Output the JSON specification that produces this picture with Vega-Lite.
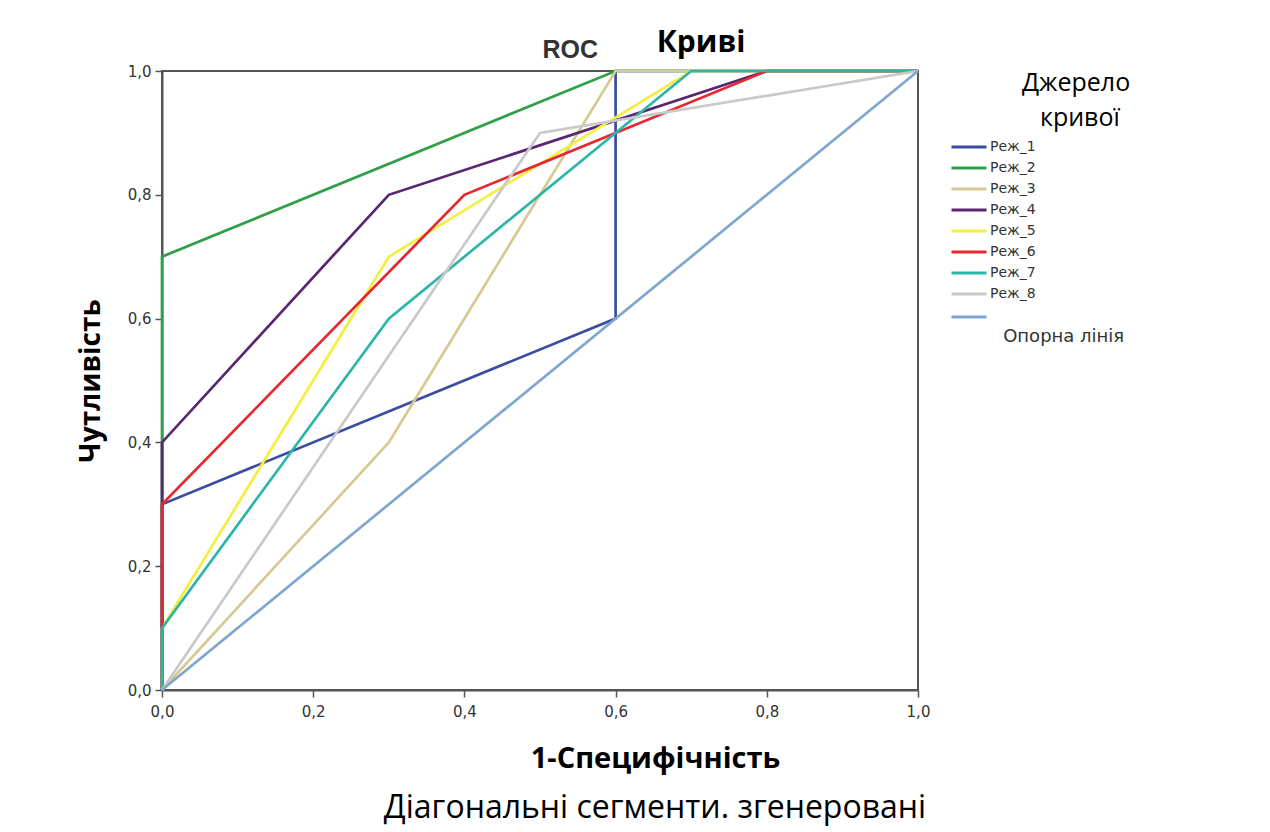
{
  "$schema": "https://vega.github.io/schema/vega-lite/v6.json",
  "width": 756,
  "height": 619,
  "autosize": {"type": "none"},
  "padding": {"left": 162, "top": 71, "right": 352, "bottom": 142},
  "background": "white",
  "config": {
    "view": {"stroke": "#555555", "strokeWidth": 2},
    "font": "Liberation Sans"
  },
  "title": {
    "text": "Діагональні сегменти. згенеровані",
    "orient": "bottom",
    "anchor": "middle",
    "dx": 115,
    "offset": 20,
    "font": "Open Sans",
    "fontSize": 32,
    "fontWeight": "normal",
    "color": "#000000"
  },
  "datasets": {
    "roc": [
      {"curve": "Реж_1", "step": 0, "fpr": 0, "tpr": 0},
      {"curve": "Реж_1", "step": 1, "fpr": 0, "tpr": 0.3},
      {"curve": "Реж_1", "step": 2, "fpr": 0.6, "tpr": 0.6},
      {"curve": "Реж_1", "step": 3, "fpr": 0.6, "tpr": 1},
      {"curve": "Реж_1", "step": 4, "fpr": 1, "tpr": 1},
      {"curve": "Реж_2", "step": 0, "fpr": 0, "tpr": 0},
      {"curve": "Реж_2", "step": 1, "fpr": 0, "tpr": 0.7},
      {"curve": "Реж_2", "step": 2, "fpr": 0.6, "tpr": 1},
      {"curve": "Реж_2", "step": 3, "fpr": 1, "tpr": 1},
      {"curve": "Реж_3", "step": 0, "fpr": 0, "tpr": 0},
      {"curve": "Реж_3", "step": 1, "fpr": 0.3, "tpr": 0.4},
      {"curve": "Реж_3", "step": 2, "fpr": 0.6, "tpr": 1},
      {"curve": "Реж_3", "step": 3, "fpr": 1, "tpr": 1},
      {"curve": "Реж_4", "step": 0, "fpr": 0, "tpr": 0},
      {"curve": "Реж_4", "step": 1, "fpr": 0, "tpr": 0.4},
      {"curve": "Реж_4", "step": 2, "fpr": 0.3, "tpr": 0.8},
      {"curve": "Реж_4", "step": 3, "fpr": 0.8, "tpr": 1},
      {"curve": "Реж_4", "step": 4, "fpr": 1, "tpr": 1},
      {"curve": "Реж_5", "step": 0, "fpr": 0, "tpr": 0},
      {"curve": "Реж_5", "step": 1, "fpr": 0, "tpr": 0.1},
      {"curve": "Реж_5", "step": 2, "fpr": 0.3, "tpr": 0.7},
      {"curve": "Реж_5", "step": 3, "fpr": 0.7, "tpr": 1},
      {"curve": "Реж_5", "step": 4, "fpr": 1, "tpr": 1},
      {"curve": "Реж_6", "step": 0, "fpr": 0, "tpr": 0},
      {"curve": "Реж_6", "step": 1, "fpr": 0, "tpr": 0.3},
      {"curve": "Реж_6", "step": 2, "fpr": 0.4, "tpr": 0.8},
      {"curve": "Реж_6", "step": 3, "fpr": 0.8, "tpr": 1},
      {"curve": "Реж_6", "step": 4, "fpr": 1, "tpr": 1},
      {"curve": "Реж_7", "step": 0, "fpr": 0, "tpr": 0},
      {"curve": "Реж_7", "step": 1, "fpr": 0, "tpr": 0.1},
      {"curve": "Реж_7", "step": 2, "fpr": 0.3, "tpr": 0.6},
      {"curve": "Реж_7", "step": 3, "fpr": 0.7, "tpr": 1},
      {"curve": "Реж_7", "step": 4, "fpr": 1, "tpr": 1},
      {"curve": "Реж_8", "step": 0, "fpr": 0, "tpr": 0},
      {"curve": "Реж_8", "step": 1, "fpr": 0.5, "tpr": 0.9},
      {"curve": "Реж_8", "step": 2, "fpr": 1, "tpr": 1},
      {"curve": "Опорна лінія", "step": 0, "fpr": 0, "tpr": 0},
      {"curve": "Опорна лінія", "step": 1, "fpr": 1, "tpr": 1}
    ]
  },
  "layer": [
    {
      "data": {"name": "roc"},
      "mark": {"type": "line", "strokeWidth": 2.7, "clip": false},
      "encoding": {
        "x": {
          "field": "fpr",
          "type": "quantitative",
          "scale": {"domain": [0, 1], "nice": false},
          "axis": {
            "title": "1-Специфічність",
            "titleFont": "Open Sans",
            "titleFontSize": 29,
            "titleFontWeight": "bold",
            "titleColor": "#000000",
            "titleX": 493,
            "titlePadding": 25,
            "values": [0, 0.2, 0.4, 0.6, 0.8, 1],
            "labelExpr": "replace(format(datum.value, '.1f'), '.', ',')",
            "labelFont": "DejaVu Sans",
            "labelFontSize": 15,
            "labelColor": "#333333",
            "labelPadding": 7,
            "labelFlush": false,
            "tickSize": 7,
            "tickColor": "#555555",
            "tickWidth": 1.5,
            "domainColor": "#555555",
            "domainWidth": 2,
            "grid": false
          }
        },
        "y": {
          "field": "tpr",
          "type": "quantitative",
          "scale": {"domain": [0, 1], "nice": false},
          "axis": {
            "title": "Чутливість",
            "titleFont": "Open Sans",
            "titleFontSize": 28,
            "titleFontWeight": "bold",
            "titleColor": "#000000",
            "titlePadding": 22,
            "values": [0, 0.2, 0.4, 0.6, 0.8, 1],
            "labelExpr": "replace(format(datum.value, '.1f'), '.', ',')",
            "labelFont": "DejaVu Sans",
            "labelFontSize": 15,
            "labelColor": "#333333",
            "labelPadding": 4,
            "labelFlush": false,
            "tickSize": 7,
            "tickColor": "#555555",
            "tickWidth": 1.5,
            "domainColor": "#555555",
            "domainWidth": 2,
            "grid": false
          }
        },
        "color": {
          "field": "curve",
          "type": "nominal",
          "scale": {
            "domain": ["Реж_1", "Реж_2", "Реж_3", "Реж_4", "Реж_5", "Реж_6", "Реж_7", "Реж_8", "Опорна лінія"],
            "range": ["#3a4da3", "#2f9f48", "#d6c993", "#5a2672", "#f4ee3e", "#e8262d", "#2db5aa", "#c9c9c9", "#7fa6d0"]
          },
          "legend": {
            "orient": "right",
            "offset": 26,
            "title": ["\u2800\u2800\u2800\u2800Джерело", "\u2800\u2800\u2800\u2800\u2800кривої"],
            "titleFont": "Open Sans",
            "titleFontSize": 25,
            "titleFontWeight": "normal",
            "titleColor": "#000000",
            "titleAlign": "left",
            "titleLimit": 400,
            "titleLineHeight": 35,
            "titlePadding": 9,
            "symbolType": "stroke",
            "symbolSize": 1225,
            "symbolStrokeWidth": 3,
            "labelFont": "DejaVu Sans",
            "labelFontSize": {"expr": "datum.label == 'Опорна лінія' ? 18 : 14"},
            "labelColor": "#333333",
            "labelOffset": 2,
            "labelLimit": 300,
            "clipHeight": 14,
            "rowPadding": 7,
            "labelExpr": "datum.label == 'Опорна лінія' ? ['', '\u2800Опорна лінія'] : datum.label"
          }
        },
        "order": {"field": "step", "type": "quantitative"}
      }
    },
    {
      "data": {"values": [{"t": "ROC"}]},
      "mark": {"type": "text", "font": "Liberation Sans", "fontWeight": "bold", "fontSize": 25, "color": "#333333", "baseline": "alphabetic", "align": "center", "dy": -13},
      "encoding": {
        "x": {"datum": 0.54, "type": "quantitative"},
        "y": {"datum": 1, "type": "quantitative"},
        "text": {"field": "t"}
      }
    },
    {
      "data": {"values": [{"t": "Криві"}]},
      "mark": {"type": "text", "font": "Open Sans", "fontWeight": "bold", "fontSize": 30, "color": "#000000", "baseline": "alphabetic", "align": "center", "dy": -19},
      "encoding": {
        "x": {"datum": 0.713, "type": "quantitative"},
        "y": {"datum": 1, "type": "quantitative"},
        "text": {"field": "t"}
      }
    }
  ]
}
